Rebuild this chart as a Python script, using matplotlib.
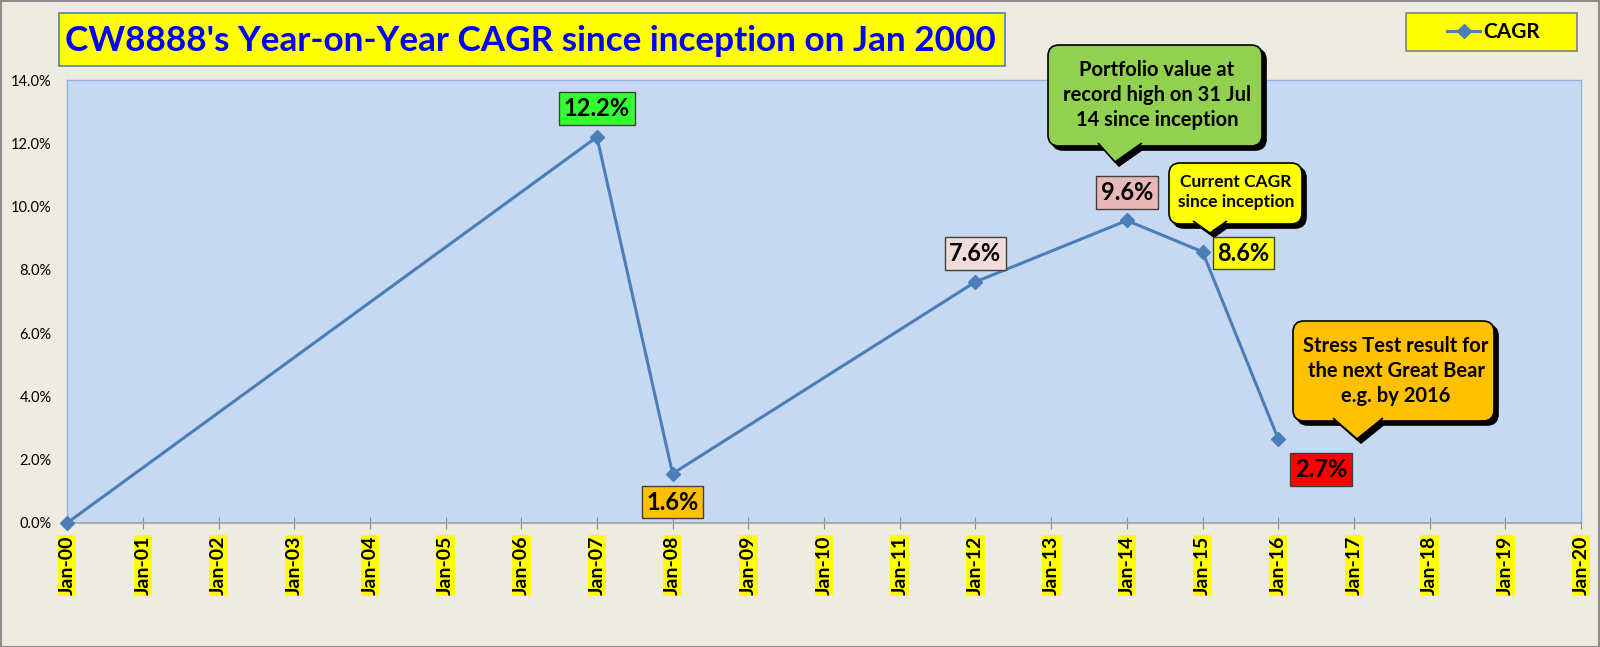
import datetime as dt

import matplotlib.pyplot as plt
import matplotlib.dates as mdates
from matplotlib.patches import FancyBboxPatch, Polygon, Rectangle
from matplotlib.ticker import FuncFormatter, MultipleLocator
from matplotlib.transforms import IdentityTransform

plt.rcParams["font.family"] = ["Lato", "DejaVu Sans"]

# data
years = [2000, 2007, 2008, 2012, 2014, 2015, 2016]
cagr = [0.0, 12.2, 1.56, 7.62, 9.56, 8.57, 2.66]
label_colors = ["none", "#33FF33", "#FFC000", "#F2DCDB", "#E6B9B8", "#FFFF00", "#FF0000"]
label_offsets = [None, (0, 20.5), (0, -20.5), (0, 20.5), (0, 20), (29.5, -1), (31, -22)]

dates = [dt.date(y, 1, 1) for y in years]

W, H = 1600, 647
fig = plt.figure(figsize=(16, 6.47), dpi=100)
fig.patch.set_facecolor("#EEECE1")
PIX = IdentityTransform()


def fy(y):
    # top-left pixel y -> display y
    return H - y


# outer frame
fig.add_artist(Rectangle((0.5, 0.5), W - 1.5, H - 1.5, transform=PIX,
                         fill=False, edgecolor="#8C8C8C", lw=1.5))

ax = fig.add_axes([67 / W, 1 - 523 / H, (1581 - 67) / W, (523 - 80) / H])
ax.set_facecolor("#C6D9F1")

(line,) = ax.plot(dates, cagr, color="#4A7EBB", lw=2.2, marker="D", ms=7,
                  markerfacecolor="#4A7EBB", markeredgecolor="#4A7EBB",
                  label="CAGR", clip_on=False, zorder=5)

ax.set_xlim(dt.date(2000, 1, 1), dt.date(2020, 1, 1))
ax.set_ylim(0, 14)
ax.xaxis.set_major_locator(mdates.YearLocator(1))
ax.xaxis.set_major_formatter(mdates.DateFormatter("%b-%y"))
ax.yaxis.set_major_locator(MultipleLocator(2))
ax.yaxis.set_major_formatter(FuncFormatter(lambda v, p: f"{v:.1f}%"))

for lab in ax.get_xticklabels():
    lab.set_rotation(90)
    lab.set_fontsize(14)
    lab.set_fontweight("bold")
    lab.set_bbox(dict(facecolor="#FFFF00", edgecolor="none", pad=0.6))
for lab in ax.get_yticklabels():
    lab.set_fontsize(10.5)

ax.tick_params(axis="x", direction="inout", length=8, color="#8C8C8C", pad=5)
ax.tick_params(axis="y", length=0, pad=11)

for side in ["top", "right", "left"]:
    ax.spines[side].set_color("#8EB4E3")
    ax.spines[side].set_linewidth(1)
ax.spines["bottom"].set_color("#A0A0A0")
ax.spines["bottom"].set_linewidth(1.2)

# value labels
for d, v, c, off in zip(dates, cagr, label_colors, label_offsets):
    if off is None:
        continue
    ax.annotate(f"{v:.1f}%", (d, v), xytext=off, textcoords="offset points",
                ha="center", va="center", fontsize=17, fontweight="bold",
                bbox=dict(boxstyle="square,pad=0.2", facecolor=c,
                          edgecolor="#404040", lw=1), zorder=8)

# title box
fig.add_artist(Rectangle((59, fy(66)), 1005 - 59, 66 - 13, transform=PIX,
                         facecolor="#FFFF00", edgecolor="#4F81BD", lw=1.2))
fig.text(530 / W, 1 - 41 / H,
         "CW8888's Year-on-Year CAGR since inception on Jan 2000",
         ha="center", va="center", fontsize=25.3, fontweight="bold", color="#0000FF")

# legend box
fig.add_artist(Rectangle((1406, fy(51)), 1577 - 1406, 51 - 13, transform=PIX,
                         facecolor="#FFFF00", edgecolor="#7F7F7F", lw=1.2,
                         zorder=2))
leg = fig.legend(handles=[line], loc="center left",
                 bbox_to_anchor=(1447 / W, 1 - 32 / H),
                 bbox_transform=fig.transFigure, frameon=False,
                 fontsize=15, handlelength=1.6,
                 handletextpad=0.15, borderpad=0, borderaxespad=0)
for t in leg.get_texts():
    t.set_fontweight("bold")
leg.set_zorder(10)


def callout(x0, y0, x1, y1, base, tip, color, text, size, tx, ty):
    # speech bubble in pixel coords, with a black drop shadow
    for dx, dy, fc, z in [(4, 4, "black", 6), (0, 0, color, 7)]:
        box = FancyBboxPatch((x0 + dx, fy(y1 + dy)), x1 - x0, y1 - y0,
                             boxstyle="round,pad=0,rounding_size=11",
                             transform=PIX, facecolor=fc,
                             edgecolor="black", lw=1.2, zorder=z)
        fig.add_artist(box)
        tri = Polygon([(base[0] + dx, fy(y1 - 3 + dy)),
                       (tip[0] + dx, fy(tip[1] + dy)),
                       (base[1] + dx, fy(y1 - 3 + dy))], closed=False,
                      transform=PIX, facecolor=fc,
                      edgecolor="black", lw=1.2, zorder=z)
        fig.add_artist(tri)
    fig.text(tx / W, 1 - ty / H, text, ha="center", va="center", fontsize=size,
             fontweight="bold", linespacing=1.3, zorder=9)


callout(1048, 45, 1262, 146, (1098, 1142), (1115, 162), "#92D050",
        "Portfolio value at\nrecord high on 31 Jul\n14 since inception", 14.5, 1157, 95)
callout(1169, 163, 1302, 224, (1193, 1227), (1210, 233), "#FFFF00",
        "Current CAGR\nsince inception", 12.5, 1236, 192)
callout(1293, 321, 1494, 421, (1333, 1383), (1357, 439), "#FFC000",
        "Stress Test result for\nthe next Great Bear\ne.g. by 2016", 14.5, 1396, 371)

fig.savefig("out.png", dpi=100, facecolor=fig.get_facecolor())
